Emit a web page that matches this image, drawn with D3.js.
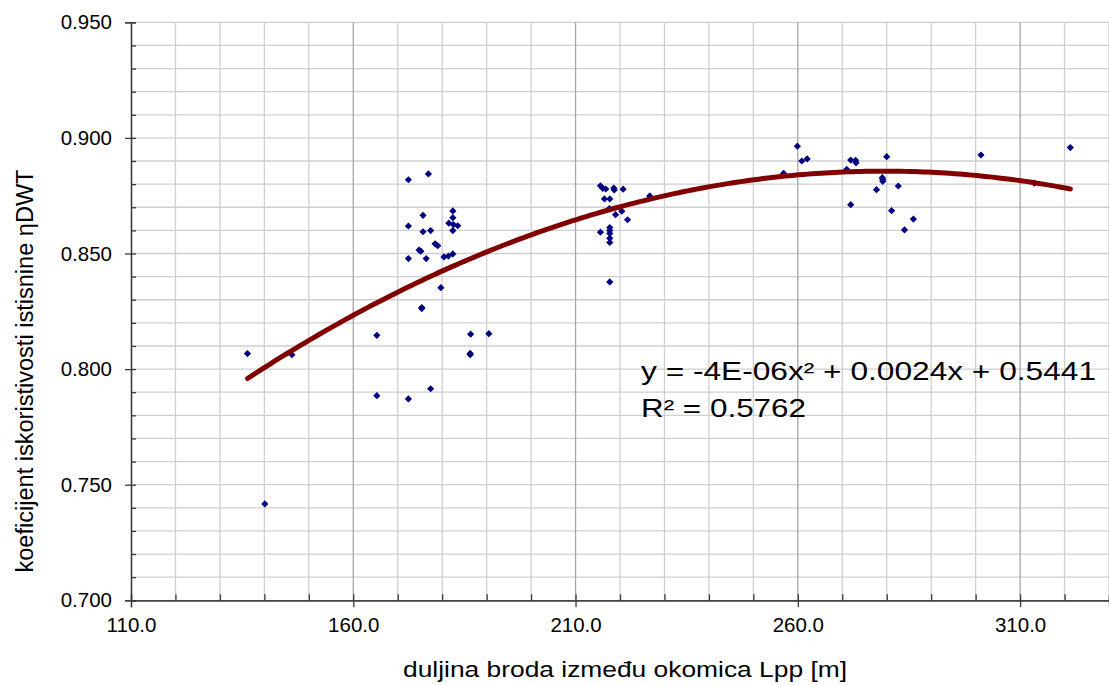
<!DOCTYPE html>
<html>
<head>
<meta charset="utf-8">
<script src="https://cdn.jsdelivr.net/npm/d3@7"></script>
<style>
  body { margin: 0; background: #fff; }
  text { font-family: "Liberation Sans", Arial, sans-serif; fill: #000; }
</style>
</head>
<body>
<svg id="chart" width="1109" height="685"></svg>
<script>

// Lpp [m]
let lppValues = [
  136.2, 146.2, 140.1, 165.3, 165.3, 172.4, 177.4, 172.4, 176.9, 175.7,
  172.4, 175.7, 177.4, 182.4, 182.4, 181.5, 182.5, 183.5, 182.4, 178.4,
  179.0, 174.8, 175.2, 172.4, 176.4, 180.4, 181.4, 182.4, 179.7, 175.4,
  175.4, 186.4, 190.5, 186.3, 186.3,
  215.6, 216.1, 216.8, 218.6, 218.7, 220.7, 216.5, 217.7, 226.7, 217.6,
  220.4, 219.0, 221.7, 215.6, 217.7, 217.7, 217.7, 217.7, 217.7, 217.7,
  259.9, 260.9, 262.1, 256.8, 271.9, 273.0, 273.1, 271.0, 280.0, 279.0,
  279.1, 279.1, 277.7, 282.6, 271.9, 281.1, 286.0, 284.0, 301.2, 321.3,
  313.2
];

// koeficijent iskoristivosti istisnine
let etaValues = [
  0.8067, 0.8062, 0.7417, 0.8146, 0.7885, 0.7871, 0.7915, 0.8819, 0.8844, 0.8665,
  0.8619, 0.8594, 0.8599, 0.8684, 0.8655, 0.8631, 0.8625, 0.8620, 0.8599, 0.8542,
  0.8534, 0.8515, 0.8510, 0.8478, 0.8478, 0.8485, 0.8489, 0.8498, 0.8352, 0.8266,
  0.8262, 0.8151, 0.8153, 0.8068, 0.8062,
  0.8793, 0.8782, 0.8779, 0.8783, 0.8775, 0.8778, 0.8736, 0.8736, 0.8749, 0.8694,
  0.8683, 0.8668, 0.8646, 0.8592, 0.8612, 0.8599, 0.8587, 0.8566, 0.8548, 0.8377,
  0.8964, 0.8900, 0.8909, 0.8847, 0.8904, 0.8903, 0.8892, 0.8864, 0.8919, 0.8828,
  0.8821, 0.8812, 0.8776, 0.8792, 0.8711, 0.8685, 0.8649, 0.8602, 0.8926, 0.8958,
  0.8804
];

// polynomial trend line (c, b, a) as drawn in the chart; label shows rounded values
let trendCoef = [0.5441, 0.002445, -4.376e-6];

// axis ticks
let xTicks = [110, 160, 210, 260, 310];
let xMinorTicks = d3.range(110, 331, 10);
let yTicks = [0.70, 0.75, 0.80, 0.85, 0.90, 0.95];
let yMinorTicks = d3.range(70, 96, 1).map(v => v / 100);

let equationText = "y = -4E-06x² + 0.0024x + 0.5441";
let rSquaredText = "R² = 0.5762";

let svg = d3.select("#chart");

// plot area
let plotLeft = 131, plotRight = 1109, plotTop = 22.3, plotBottom = 600.3;

let x = d3.scaleLinear().domain([110, 330]).range([plotLeft, plotRight]);
let y = d3.scaleLinear().domain([0.70, 0.95]).range([plotBottom, plotTop]);

// grid lines
let grid = svg.append("g").attr("class", "grid");

grid.selectAll("line.h")
  .data(yMinorTicks.filter(v => v > 0.7001))
  .enter()
  .append("line")
  .attr("class", "h")
  .attr("x1", plotLeft)
  .attr("x2", plotRight)
  .attr("y1", d => y(d))
  .attr("y2", d => y(d))
  .attr("stroke", "#cfcfcf")
  .attr("stroke-width", 1.3);

grid.selectAll("line.v")
  .data(xMinorTicks.filter(v => v > 110))
  .enter()
  .append("line")
  .attr("class", "v")
  .attr("x1", d => x(d))
  .attr("x2", d => x(d))
  .attr("y1", plotTop)
  .attr("y2", plotBottom)
  .attr("stroke", d => xTicks.includes(d) ? "#a6a6a6" : "#cfcfcf")
  .attr("stroke-width", 1.3);

// axes: minor ticks point inward, major ticks cross the axis line
let yMinorAxis = svg.append("g")
  .attr("transform", `translate(${plotLeft},0)`)
  .call(d3.axisLeft(y).tickValues(yMinorTicks).tickSize(-5).tickFormat(""));
let yAxis = svg.append("g")
  .attr("transform", `translate(${plotLeft},0)`)
  .call(d3.axisLeft(y).tickValues(yTicks).tickSize(6).tickPadding(13)
    .tickFormat(d3.format(".3f")));

let xMinorAxis = svg.append("g")
  .attr("transform", `translate(0,${plotBottom})`)
  .call(d3.axisBottom(x).tickValues(xMinorTicks).tickSize(-6).tickFormat(""));
let xAxis = svg.append("g")
  .attr("transform", `translate(0,${plotBottom})`)
  .call(d3.axisBottom(x).tickValues(xTicks).tickSize(7).tickPadding(10)
    .tickFormat(d3.format(".1f")));

[yMinorAxis, yAxis, xMinorAxis, xAxis].forEach(a => {
  a.select(".domain").attr("stroke", "#3a3a3a").attr("stroke-width", 1.3);
  a.selectAll(".tick line").attr("stroke", "#3a3a3a").attr("stroke-width", 1.3);
});
yAxis.selectAll("text").attr("font-size", "20.5px")
  .attr("font-family", "Liberation Sans, Arial, sans-serif");
xAxis.selectAll("text").attr("font-size", "20.5px")
  .attr("font-family", "Liberation Sans, Arial, sans-serif");

// trend line over the data range
let [xMin, xMax] = d3.extent(lppValues);
let trendX = d3.range(xMin, xMax, 1).concat([xMax]);
let trend = trendX.map(v => [v, trendCoef[0] + trendCoef[1] * v + trendCoef[2] * v * v]);

// data points (diamonds)
svg.append("g")
  .selectAll("path")
  .data(lppValues.map((v, i) => [v, etaValues[i]]))
  .enter()
  .append("path")
  .attr("d", d3.symbol(d3.symbolSquare, 26))
  .attr("transform", d => `translate(${x(d[0])},${y(d[1])}) rotate(45)`)
  .attr("fill", "#000080");

svg.append("path")
  .datum(trend)
  .attr("fill", "none")
  .attr("stroke", "#800000")
  .attr("stroke-width", 5)
  .attr("stroke-linecap", "round")
  .attr("d", d3.line().x(d => x(d[0])).y(d => y(d[1])));

// trend line label
svg.append("text")
  .attr("x", 641)
  .attr("y", 380)
  .attr("font-size", "26px")
  .attr("textLength", 455)
  .attr("lengthAdjust", "spacingAndGlyphs")
  .text(equationText);
svg.append("text")
  .attr("x", 641)
  .attr("y", 417)
  .attr("font-size", "26px")
  .attr("textLength", 165)
  .attr("lengthAdjust", "spacingAndGlyphs")
  .text(rSquaredText);

// axis titles
svg.append("text")
  .attr("x", 625)
  .attr("y", 677)
  .attr("text-anchor", "middle")
  .attr("font-size", "22px")
  .attr("textLength", 444)
  .attr("lengthAdjust", "spacingAndGlyphs")
  .text("duljina broda između okomica Lpp [m]");

svg.append("text")
  .attr("transform", "translate(33,371) rotate(-90)")
  .attr("text-anchor", "middle")
  .attr("font-size", "23px")
  .attr("textLength", 403)
  .attr("lengthAdjust", "spacingAndGlyphs")
  .text("koeficijent iskoristivosti istisnine ηDWT");

</script>
</body>
</html>
